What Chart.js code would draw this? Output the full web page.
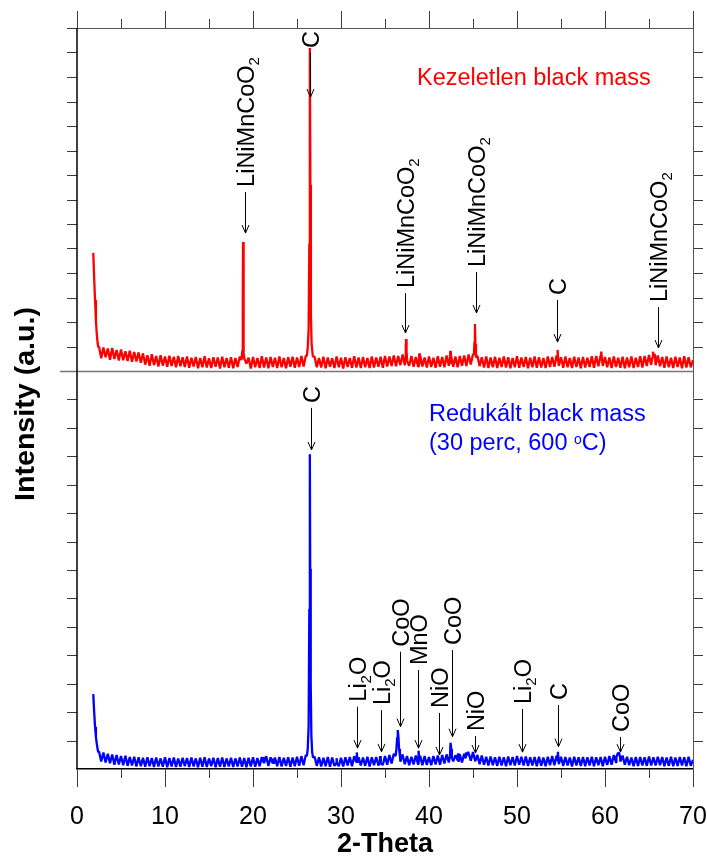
<!DOCTYPE html>
<html>
<head>
<meta charset="utf-8">
<script src="https://cdn.jsdelivr.net/npm/chart.js@4.4.1/dist/chart.umd.min.js"></script>
<style>
  html, body { margin: 0; padding: 0; background: #fff; }
</style>
</head>
<body>
<canvas id="xrdChart" width="707" height="858"></canvas>
<script>
// baseline samples on a 0.25 deg grid starting at 2.5 deg
const gridStart = 2.5
const gridStep = 0.25

const redBaseline = [
    100, 52, 96, 56, 92, 46, 94, 49, 86, 43, 88, 44, 81, 41, 83, 38, 78, 39, 76, 34,
    72, 26, 64, 21, 68, 24, 61, 18, 64, 22, 59, 17, 62, 20, 58, 15, 61, 19, 56, 16,
    59, 13, 54, 18, 57, 11, 53, 15, 60, 14, 52, 12, 56, 17, 55, 10, 58, 15, 53, 13,
    56, 11, 53, 16, 59, 13, 52, 30, 54, 10, 57, 15, 53, 12, 60, 14, 55, 11, 57, 16,
    54, 12, 59, 15, 53, 11, 56, 17, 58, 13, 55, 16, 61, 18, 62, 60, 60, 55, 58, 15,
    53, 14, 58, 11, 55, 17, 52, 12, 59, 15, 54, 10, 56, 16, 53, 13, 60, 14, 55, 12,
    57, 15, 53, 12, 59, 14, 55, 17, 58, 13, 61, 18, 59, 20, 63, 19, 61, 24, 67, 23,
    64, 21, 61, 17, 57, 19, 63, 18, 55, 14, 59, 16, 54, 13, 60, 17, 57, 15, 63, 21,
    65, 17, 59, 15, 61, 21, 63, 20, 67, 27, 69, 34, 62, 20, 56, 14, 59, 12, 55, 15,
    58, 12, 54, 16, 59, 14, 56, 11, 53, 15, 60, 13, 55, 16, 57, 11, 54, 15, 59, 13,
    56, 14, 53, 12, 59, 16, 57, 17, 63, 21, 56, 13, 59, 15, 53, 12, 58, 16, 55, 11,
    57, 14, 54, 16, 60, 13, 61, 19, 63, 21, 57, 15, 55, 12, 59, 16, 54, 13, 58, 11,
    55, 15, 59, 12, 54, 16, 60, 14, 61, 20, 65, 25, 69, 24, 63, 19, 57, 13, 59, 15,
    54, 12, 58, 16, 55, 11, 60, 14, 56, 15, 45
]
const redStart = [[1.85, 482], [1.95, 380], [2.05, 290], [2.15, 205], [2.25, 150], [2.35, 112], [2.43, 96]]
const redPeaks = [
    [[18.7, 45], [18.78, 82], [18.84, 300], [18.87, 527], [18.91, 210], [18.96, 70]],
    [[26.12, 62], [26.22, 95], [26.32, 170], [26.4, 520], [26.46, 1318], [26.52, 760], [26.58, 230], [26.66, 110], [26.8, 60]],
    [[37.3, 55], [37.36, 95], [37.4, 130], [37.45, 80], [37.52, 40]],
    [[38.86, 45], [38.9, 72], [38.96, 30]],
    [[42.36, 40], [42.42, 82], [42.48, 30]],
    [[45.1, 65], [45.17, 120], [45.22, 192], [45.27, 110], [45.34, 55]],
    [[54.56, 45], [54.62, 86], [54.69, 40]],
    [[59.52, 50], [59.58, 79], [59.66, 45]],
    [[65.38, 55], [65.45, 79], [65.55, 62], [65.65, 70]]
]

const blueBaseline = [
    62, 26, 58, 23, 53, 20, 51, 15, 49, 16, 45, 13, 46, 11, 42, 12, 43, 9, 41, 10,
    39, 8, 41, 10, 38, 7, 40, 9, 37, 8, 41, 6, 38, 9, 40, 7, 37, 8, 39, 10,
    38, 7, 40, 9, 37, 6, 39, 8, 41, 7, 37, 10, 39, 6, 38, 8, 40, 7, 37, 9,
    39, 7, 37, 9, 40, 8, 38, 6, 39, 9, 41, 8, 38, 10, 42, 9, 45, 11, 41, 12,
    40, 10, 42, 9, 39, 11, 41, 8, 40, 10, 43, 11, 45, 13, 49, 50, 50, 45, 43, 11,
    41, 9, 39, 10, 42, 8, 40, 11, 43, 10, 39, 9, 41, 12, 42, 10, 45, 11, 41, 12,
    40, 11, 43, 9, 41, 13, 42, 12, 47, 14, 45, 15, 49, 19, 53, 26, 60, 26, 51, 17,
    45, 13, 43, 16, 47, 17, 46, 13, 45, 14, 42, 13, 45, 16, 47, 15, 49, 19, 51, 23,
    54, 27, 48, 22, 51, 23, 53, 29, 56, 29, 59, 27, 49, 17, 47, 15, 43, 12, 44, 13,
    41, 11, 43, 12, 41, 10, 44, 13, 42, 12, 45, 15, 43, 12, 44, 11, 41, 12, 42, 10,
    43, 11, 40, 10, 43, 13, 45, 13, 47, 17, 43, 11, 42, 12, 40, 9, 43, 12, 41, 11,
    42, 10, 41, 12, 43, 10, 41, 13, 42, 10, 43, 14, 45, 15, 49, 23, 50, 26, 47, 15,
    43, 13, 40, 10, 42, 11, 42, 12, 41, 11, 44, 12, 41, 12, 43, 13, 42, 10, 40, 11,
    43, 10, 40, 11, 42, 12, 41, 10, 43, 11, 32
]
const blueStart = [[1.85, 262], [1.95, 200], [2.05, 148], [2.15, 112], [2.25, 88], [2.35, 68], [2.43, 58]]
const bluePeaks = [
    [[21.15, 25], [21.2, 42], [21.26, 20]],
    [[22.24, 20], [22.3, 36], [22.35, 18]],
    [[26.12, 45], [26.22, 70], [26.32, 150], [26.4, 560], [26.46, 1101], [26.5, 700], [26.56, 300], [26.63, 120], [26.72, 60], [26.82, 40]],
    [[29.45, 20], [29.5, 38], [29.56, 18]],
    [[31.72, 25], [31.8, 58], [31.88, 22]],
    [[34.4, 25], [34.45, 45], [34.52, 20]],
    [[36.2, 45], [36.3, 70], [36.38, 110], [36.45, 136], [36.52, 115], [36.6, 70], [36.7, 45]],
    [[38.78, 30], [38.85, 64], [38.92, 28]],
    [[42.38, 45], [42.45, 92], [42.52, 70], [42.6, 40]],
    [[43.25, 30], [43.3, 55], [43.36, 25]],
    [[44.1, 40], [44.2, 58], [44.3, 48], [44.45, 60], [44.6, 45]],
    [[54.58, 30], [54.65, 60], [54.72, 25]],
    [[61.3, 42], [61.45, 55], [61.6, 57], [61.72, 40]]
]

// phase markers: 2-theta, arrow tail and tip in intensity units of each panel
const topMarks = [
    { name: 'LiNiMnCoO2', x: 19.05, tail: 731, tip: 563 },
    { name: 'C', x: 26.52, tail: 1298, tip: 1118 },
    { name: 'LiNiMnCoO2', x: 37.3, tail: 318, tip: 155 },
    { name: 'LiNiMnCoO2', x: 45.3, tail: 404, tip: 237 },
    { name: 'C', x: 54.6, tail: 290, tip: 118 },
    { name: 'LiNiMnCoO2', x: 66.03, tail: 261, tip: 94 }
]
const bottomMarks = [
    { name: 'C', x: 26.54, tail: 1263, tip: 1116 },
    { name: 'Li2O', x: 31.77, tail: 218, tip: 73 },
    { name: 'Li2O', x: 34.49, tail: 206, tip: 60 },
    { name: 'CoO', x: 36.65, tail: 410, tip: 148 },
    { name: 'MnO', x: 38.77, tail: 346, tip: 73 },
    { name: 'NiO', x: 41.15, tail: 196, tip: 49 },
    { name: 'CoO', x: 42.56, tail: 416, tip: 113 },
    { name: 'NiO', x: 45.21, tail: 115, tip: 56 },
    { name: 'Li2O', x: 50.55, tail: 210, tip: 59 },
    { name: 'C', x: 54.67, tail: 224, tip: 78 },
    { name: 'CoO', x: 61.68, tail: 112, tip: 59 }
]

const LABEL_FONT = '"Liberation Sans", Arial, sans-serif'
const NARROW_FONT = '"Liberation Sans Narrow", "Arial Narrow", "Liberation Sans", sans-serif'

function buildSeries(start, baseline, peaks) {
    const pts = start.map(([x, y]) => ({ x, y }))
    const spans = peaks.map(g => [g[0][0], g[g.length - 1][0]])
    baseline.forEach((y, i) => {
        const x = gridStart + i * gridStep
        if (!spans.some(([a, b]) => x >= a && x <= b)) pts.push({ x, y })
    })
    peaks.forEach(g => g.forEach(([x, y]) => pts.push({ x, y })))
    return pts.sort((a, b) => a.x - b.x)
}

// draws a formula along +x, digits as subscripts
function drawFormula(ctx, text, size) {
    let x = 0
    for (const part of text.match(/[A-Za-z]+|\d+/g)) {
        const sub = /\d/.test(part)
        ctx.font = (sub ? Math.round(size * 0.62) : size) + 'px ' + LABEL_FONT
        ctx.fillText(part, x, sub ? size * 0.22 : 0)
        x += ctx.measureText(part).width
    }
}

const frame = {
    id: 'frame',
    afterDraw(chart) {
        const { ctx, chartArea: a, scales } = chart
        const x = scales.x, yT = scales.yTop, yB = scales.yBot
        const sep = Math.round(yT.bottom) + 0.5
        ctx.save()
        ctx.lineWidth = 1
        ctx.strokeStyle = '#3c3c3c'
        ctx.beginPath()
        // top panel y ticks, both sides
        yT.ticks.forEach(t => {
            const py = Math.round(yT.getPixelForValue(t.value)) + 0.5
            if (t.value > 0) { ctx.moveTo(a.left - 10, py); ctx.lineTo(a.left, py) }
            if (t.value > 0 && t.value < yT.max) { ctx.moveTo(a.right, py); ctx.lineTo(a.right + 10, py) }
        })
        // bottom panel y ticks
        yB.ticks.forEach(t => {
            if (t.value <= 0 || t.value >= yB.max) return
            const py = Math.round(yB.getPixelForValue(t.value)) + 0.5
            const len = t.value % 200 === 0 ? 17 : 10
            ctx.moveTo(a.left - len, py); ctx.lineTo(a.left, py)
            ctx.moveTo(a.right, py); ctx.lineTo(a.right + 10, py)
        })
        // top x ticks and bottom minor x ticks
        x.ticks.forEach(t => {
            const px = Math.round(x.getPixelForValue(t.value)) + 0.5
            const major = t.value % 10 === 0
            ctx.moveTo(px, a.top); ctx.lineTo(px, a.top - (major ? 17 : 9))
            if (!major) { ctx.moveTo(px, a.bottom); ctx.lineTo(px, a.bottom + 9) }
        })
        ctx.stroke()
        // frame lines
        ctx.strokeStyle = '#555'
        ctx.beginPath()
        ctx.moveTo(a.left, Math.round(a.top) + 0.5); ctx.lineTo(a.right, Math.round(a.top) + 0.5)
        ctx.moveTo(Math.round(a.right) + 0.5, a.top); ctx.lineTo(Math.round(a.right) + 0.5, a.bottom)
        ctx.stroke()
        ctx.strokeStyle = '#777'
        ctx.lineWidth = 1.5
        ctx.beginPath()
        ctx.moveTo(a.left - 17, sep); ctx.lineTo(a.right, sep)
        ctx.stroke()
        ctx.strokeStyle = '#000'
        ctx.beginPath()
        ctx.moveTo(a.left, a.top); ctx.lineTo(a.left, a.bottom)
        ctx.stroke()
        // y axis title
        ctx.fillStyle = '#000'
        ctx.translate(34, 404)
        ctx.rotate(-Math.PI / 2)
        ctx.scale(1.06, 1)
        ctx.font = 'bold 27px ' + LABEL_FONT
        ctx.textAlign = 'center'
        ctx.fillText('Intensity (a.u.)', 0, 0)
        ctx.restore()
    }
}

const annotate = {
    id: 'annotate',
    afterDatasetsDraw(chart) {
        const ctx = chart.ctx, x = chart.scales.x
        ctx.save()
        ctx.strokeStyle = '#000'
        ctx.fillStyle = '#000'
        ctx.lineWidth = 1
        const groups = [[topMarks, chart.scales.yTop], [bottomMarks, chart.scales.yBot]]
        for (const [marks, axis] of groups) {
            for (const m of marks) {
                const px = Math.round(x.getPixelForValue(m.x)) + 0.5
                const yTail = axis.getPixelForValue(m.tail)
                const yTip = axis.getPixelForValue(m.tip)
                ctx.beginPath()
                ctx.moveTo(px, yTail); ctx.lineTo(px, yTip)
                ctx.moveTo(px - 3.5, yTip - 8); ctx.lineTo(px, yTip); ctx.lineTo(px + 3.5, yTip - 8)
                ctx.stroke()
                ctx.save()
                ctx.translate(px + 8.5, yTail - 5)
                ctx.rotate(-Math.PI / 2)
                ctx.textBaseline = 'alphabetic'
                drawFormula(ctx, m.name, 23.5)
                ctx.restore()
            }
        }
        // sample captions
        ctx.font = '23.5px ' + LABEL_FONT
        ctx.fillStyle = '#ff0000'
        ctx.fillText('Kezeletlen black mass', 417, 85)
        ctx.fillStyle = '#0000ff'
        ctx.fillText('Redukált black mass', 429, 421)
        let cx = 429
        const head = '(30 perc, 600 '
        ctx.fillText(head, cx, 450)
        cx += ctx.measureText(head).width
        ctx.font = '14px ' + LABEL_FONT
        ctx.fillText('o', cx, 444)
        cx += ctx.measureText('o').width
        ctx.font = '23.5px ' + LABEL_FONT
        ctx.fillText('C)', cx, 450)
        ctx.restore()
    }
}

new Chart(document.getElementById('xrdChart'), {
    type: 'line',
    data: {
        datasets: [
            { label: 'Kezeletlen black mass', data: buildSeries(redStart, redBaseline, redPeaks), yAxisID: 'yTop', borderColor: '#ff0000', borderWidth: 2.3, borderJoinStyle: 'bevel', pointRadius: 0, tension: 0 },
            { label: 'Redukált black mass', data: buildSeries(blueStart, blueBaseline, bluePeaks), yAxisID: 'yBot', borderColor: '#0000ff', borderWidth: 2.3, borderJoinStyle: 'bevel', pointRadius: 0, tension: 0 }
        ]
    },
    options: {
        responsive: false,
        animation: false,
        layout: { padding: { left: 77, right: 14, top: 28, bottom: 0 } },
        plugins: { legend: { display: false }, tooltip: { enabled: false } },
        scales: {
            x: {
                type: 'linear', position: 'bottom', min: 0, max: 70,
                ticks: {
                    stepSize: 5, autoSkip: false, maxRotation: 0, padding: 15, color: '#000',
                    font: { family: NARROW_FONT, size: 25 },
                    callback: v => v % 10 === 0 ? v : ''
                },
                grid: {
                    drawOnChartArea: false, tickLength: 18, tickWidth: 1,
                    tickColor: c => (c.tick && c.tick.value % 10 === 0) ? '#3c3c3c' : 'rgba(0,0,0,0)'
                },
                border: { color: '#000', width: 1.5 },
                title: { display: true, text: '2-Theta', color: '#000', font: { family: NARROW_FONT, size: 27, weight: 'bold', lineHeight: 1 }, padding: { top: 0, bottom: 0 } },
                afterFit: s => { s.height = 89; s.paddingLeft = 0; s.paddingRight = 0 }
            },
            yTop: {
                type: 'linear', position: 'left', stack: 'xrd', stackWeight: 343, weight: 2,
                min: 0, max: 1400,
                ticks: { display: false, stepSize: 100 },
                grid: { display: false }, border: { display: false },
                afterFit: s => { s.width = 0 }
            },
            yBot: {
                type: 'linear', position: 'left', stack: 'xrd', stackWeight: 398, weight: 1,
                min: 0, max: 1392,
                ticks: { display: false, stepSize: 100 },
                grid: { display: false }, border: { display: false },
                afterFit: s => { s.width = 0 }
            }
        }
    },
    plugins: [frame, annotate]
})
</script>
</body>
</html>
